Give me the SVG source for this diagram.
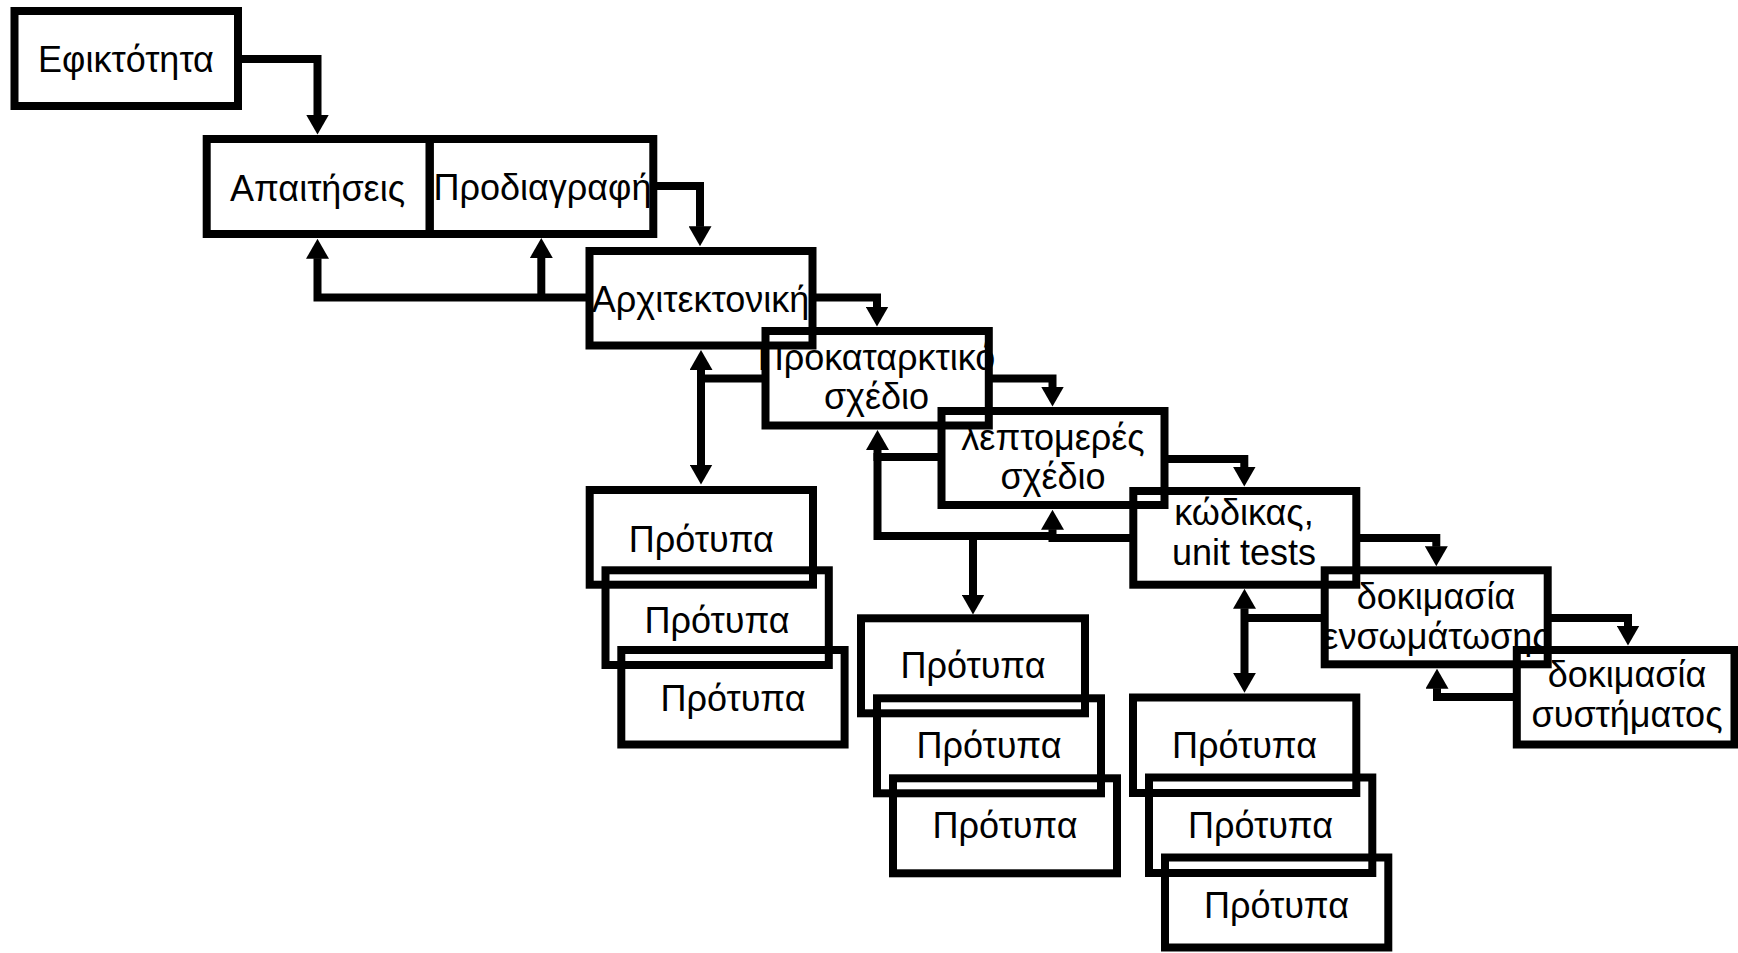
<svg xmlns="http://www.w3.org/2000/svg" width="1738" height="953" viewBox="0 0 1738 953">
  <style>
    .box { fill: none; stroke: #000; stroke-width: 8; stroke-linejoin: miter; }
    .lbl { font-family: "Liberation Sans", Arial, sans-serif; font-size: 36px; fill: #000; text-anchor: middle; }
    .wire { fill: none; stroke: #000; stroke-width: 8; stroke-linejoin: miter; stroke-linecap: butt; }
    .arrow { marker-end: url(#head); }
    .both { marker-start: url(#head); marker-end: url(#head); }
  </style>
  <defs>
    <marker id="head" viewBox="0 -11.5 20 23" refX="0.5" refY="0" markerWidth="20" markerHeight="23" markerUnits="userSpaceOnUse" orient="auto-start-reverse">
      <path d="M0,-11.5 L20,0 L0,11.5 Z" fill="#000"/>
    </marker>
  </defs>
  <rect width="1738" height="953" fill="#fff"/>

  <!-- main chain -->
  <g id="efiktotita">
    <rect class="box" x="14.5" y="11" width="223.5" height="95"/>
    <text class="lbl" x="126" y="71.5">Εφικτότητα</text>
  </g>
  <g id="apaitiseis">
    <rect class="box" x="206.7" y="139" width="223" height="95"/>
    <text class="lbl" x="317.5" y="201">Απαιτήσεις</text>
  </g>
  <g id="prodiagrafi">
    <rect class="box" x="429.7" y="139" width="223.6" height="95"/>
    <text class="lbl" x="542.5" y="200">Προδιαγραφή</text>
  </g>
  <g id="architektoniki">
    <rect class="box" x="589.5" y="251" width="223" height="94.5"/>
    <text class="lbl" x="700.5" y="311.5">Αρχιτεκτονική</text>
  </g>
  <g id="prokatarktiko">
    <rect class="box" x="765.5" y="331" width="223.3" height="94.5"/>
    <text class="lbl" x="876.5" y="370">Προκαταρκτικό</text>
    <text class="lbl" x="876.5" y="409">σχέδιο</text>
  </g>
  <g id="leptomeres">
    <rect class="box" x="941.5" y="411" width="223" height="94"/>
    <text class="lbl" x="1053" y="450">λεπτομερές</text>
    <text class="lbl" x="1053" y="489">σχέδιο</text>
  </g>
  <g id="kodikas">
    <rect class="box" x="1133.3" y="491" width="223" height="93.7"/>
    <text class="lbl" x="1244" y="524.5">κώδικας,</text>
    <text class="lbl" x="1244" y="565">unit tests</text>
  </g>
  <g id="ensomatosi">
    <rect class="box" x="1324.7" y="570.3" width="223" height="94"/>
    <text class="lbl" x="1436" y="608.5">δοκιμασία</text>
    <text class="lbl" x="1436" y="648.5">ενσωμάτωσης</text>
  </g>
  <g id="systima">
    <rect class="box" x="1516.8" y="650" width="217.7" height="94.5"/>
    <text class="lbl" x="1627" y="687">δοκιμασία</text>
    <text class="lbl" x="1627" y="727">συστήματος</text>
  </g>

  <!-- prototype stacks -->
  <g id="protypa-1a">
    <rect class="box" x="589.7" y="490" width="223.3" height="94.7"/>
    <text class="lbl" x="701.3" y="551.5">Πρότυπα</text>
  </g>
  <g id="protypa-1b">
    <rect class="box" x="605.5" y="570.3" width="223.3" height="94.7"/>
    <text class="lbl" x="717.1" y="632.5">Πρότυπα</text>
  </g>
  <g id="protypa-1c">
    <rect class="box" x="621.3" y="650" width="223.3" height="94.5"/>
    <text class="lbl" x="733" y="710.5">Πρότυπα</text>
  </g>
  <g id="protypa-2a">
    <rect class="box" x="861" y="618.3" width="224" height="95"/>
    <text class="lbl" x="973" y="678.3">Πρότυπα</text>
  </g>
  <g id="protypa-2b">
    <rect class="box" x="877" y="698.3" width="224" height="95"/>
    <text class="lbl" x="989" y="758.3">Πρότυπα</text>
  </g>
  <g id="protypa-2c">
    <rect class="box" x="893" y="778.3" width="224" height="95"/>
    <text class="lbl" x="1005" y="838.3">Πρότυπα</text>
  </g>
  <g id="protypa-3a">
    <rect class="box" x="1133" y="697.5" width="223.3" height="95.5"/>
    <text class="lbl" x="1244.5" y="758.3">Πρότυπα</text>
  </g>
  <g id="protypa-3b">
    <rect class="box" x="1149" y="777.5" width="223.3" height="95.5"/>
    <text class="lbl" x="1260.5" y="838.3">Πρότυπα</text>
  </g>
  <g id="protypa-3c">
    <rect class="box" x="1165" y="857.5" width="223.3" height="90"/>
    <text class="lbl" x="1276.5" y="918.3">Πρότυπα</text>
  </g>

  <g id="connectors">
    <!-- forward flow -->
    <path class="wire arrow" d="M238,59 H317.5 V115"/>
    <path class="wire arrow" d="M653.3,186 H700 V226.7"/>
    <path class="wire arrow" d="M812.5,297.5 H877 V307"/>
    <path class="wire arrow" d="M988.8,378.5 H1052.5 V387"/>
    <path class="wire arrow" d="M1164.5,459 H1244.3 V467"/>
    <path class="wire arrow" d="M1356.3,538 H1436.3 V546.7"/>
    <path class="wire arrow" d="M1547.7,618 H1628 V626"/>
    <!-- feedback -->
    <path class="wire arrow" d="M589.5,297.5 H317.5 V258.3"/>
    <path class="wire arrow" d="M541.3,297.5 V257.5"/>
    <path class="wire" d="M765.5,378.5 H701"/>
    <path class="wire both" d="M701,369.5 V465"/>
    <path class="wire arrow" d="M941.5,457 H877.5 V449.5"/>
    <path class="wire" d="M877.5,453 V536 H1056"/>
    <path class="wire arrow" d="M973,536 V595"/>
    <path class="wire arrow" d="M1133.3,538 H1052.5 V529.3"/>
    <path class="wire" d="M1324.7,618 H1244.5"/>
    <path class="wire both" d="M1244.5,608.3 V673.3"/>
    <path class="wire arrow" d="M1516.8,697 H1437 V688.2"/>
  </g>
</svg>
